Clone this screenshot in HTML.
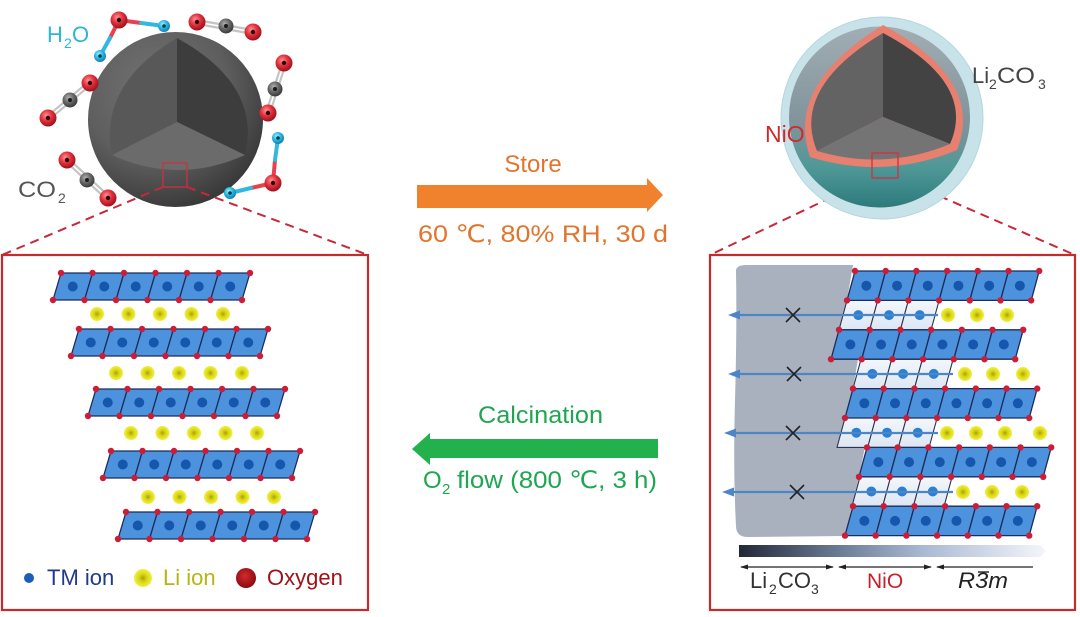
<!DOCTYPE html>
<html><head><meta charset="utf-8"><style>
html,body{margin:0;padding:0;background:#fff;}
svg{display:block;}
text{font-family:"Liberation Sans","DejaVu Sans",sans-serif;}
</style></head><body>
<svg width="1080" height="617" viewBox="0 0 1080 617" xmlns="http://www.w3.org/2000/svg">
<defs>
 <radialGradient id="gO" cx="40%" cy="35%" r="65%"><stop offset="0" stop-color="#ff9090"/><stop offset="0.5" stop-color="#e0323e"/><stop offset="1" stop-color="#a0101c"/></radialGradient>
 <radialGradient id="gC" cx="40%" cy="35%" r="65%"><stop offset="0" stop-color="#b0b0b0"/><stop offset="0.5" stop-color="#6a6a6a"/><stop offset="1" stop-color="#3a3a3a"/></radialGradient>
 <radialGradient id="gH" cx="40%" cy="35%" r="65%"><stop offset="0" stop-color="#a0f0ff"/><stop offset="0.5" stop-color="#2cb8e4"/><stop offset="1" stop-color="#1080b0"/></radialGradient>
 <radialGradient id="gLi" cx="50%" cy="50%" r="50%"><stop offset="0" stop-color="#a8a000"/><stop offset="0.4" stop-color="#d6d214"/><stop offset="1" stop-color="#f2f040"/></radialGradient>
 <radialGradient id="gOx" cx="45%" cy="40%" r="60%"><stop offset="0" stop-color="#d42a2a"/><stop offset="1" stop-color="#8a0a10"/></radialGradient>
 <radialGradient id="gS" cx="38%" cy="32%" r="70%"><stop offset="0" stop-color="#727272"/><stop offset="0.6" stop-color="#5e5e5e"/><stop offset="1" stop-color="#3a3a3a"/></radialGradient>
 <linearGradient id="gT" x1="0" y1="0" x2="0" y2="1"><stop offset="0" stop-color="#a2adb4"/><stop offset="0.55" stop-color="#7f939a"/><stop offset="0.78" stop-color="#4f9898"/><stop offset="1" stop-color="#2d7a7c"/></linearGradient>
 <linearGradient id="gBar" x1="0" y1="0" x2="1" y2="0"><stop offset="0" stop-color="#222838"/><stop offset="0.3" stop-color="#66758f"/><stop offset="0.6" stop-color="#a9b9d4"/><stop offset="1" stop-color="#f4f6fa"/></linearGradient>
 <linearGradient id="gW" x1="0" y1="0" x2="0" y2="1"><stop offset="0" stop-color="#f4f7fb"/><stop offset="1" stop-color="#dde6f2"/></linearGradient>

 <g id="aO"><circle r="8.5" fill="url(#gO)"/><circle r="2.2" fill="#2a0808"/></g>
 <g id="aC"><circle r="7.5" fill="url(#gC)"/><circle r="2" fill="#1a1a1a"/></g>
 <g id="aH"><circle r="6" fill="url(#gH)"/><circle r="1.8" fill="#0a3a50"/></g>
 <g id="li"><circle r="7" fill="url(#gLi)"/></g>

 <g id="rowL">
  <g fill="#4d92dc" stroke="#1b2c5a" stroke-width="1.3" stroke-linejoin="round">
   <polygon points="8,0 39.5,0 31.5,27 0,27"/>
   <polygon points="39.5,0 71,0 63,27 31.5,27"/>
   <polygon points="71,0 102.5,0 94.5,27 63,27"/>
   <polygon points="102.5,0 134,0 126,27 94.5,27"/>
   <polygon points="134,0 165.5,0 157.5,27 126,27"/>
   <polygon points="165.5,0 197,0 189,27 157.5,27"/>
  </g>
  <g fill="#1656ad">
   <circle cx="19.75" cy="13.5" r="5"/><circle cx="51.25" cy="13.5" r="5"/><circle cx="82.75" cy="13.5" r="5"/>
   <circle cx="114.25" cy="13.5" r="5"/><circle cx="145.75" cy="13.5" r="5"/><circle cx="177.25" cy="13.5" r="5"/>
  </g>
  <g fill="#cc1d38">
   <circle cx="8" cy="0" r="3.2"/><circle cx="39.5" cy="0" r="3.2"/><circle cx="71" cy="0" r="3.2"/><circle cx="102.5" cy="0" r="3.2"/><circle cx="134" cy="0" r="3.2"/><circle cx="165.5" cy="0" r="3.2"/><circle cx="197" cy="0" r="3.2"/>
   <circle cx="0" cy="27" r="3.2"/><circle cx="31.5" cy="27" r="3.2"/><circle cx="63" cy="27" r="3.2"/><circle cx="94.5" cy="27" r="3.2"/><circle cx="126" cy="27" r="3.2"/><circle cx="157.5" cy="27" r="3.2"/><circle cx="189" cy="27" r="3.2"/>
  </g>
 </g>

 <g id="rowB">
  <g fill="#4d92dc" stroke="#1b2c5a" stroke-width="1.3" stroke-linejoin="round">
   <polygon points="8,0 38.7,0 30.7,29.4 0,29.4"/>
   <polygon points="38.7,0 69.4,0 61.4,29.4 30.7,29.4"/>
   <polygon points="69.4,0 100.1,0 92.1,29.4 61.4,29.4"/>
   <polygon points="100.1,0 130.8,0 122.8,29.4 92.1,29.4"/>
   <polygon points="130.8,0 161.5,0 153.5,29.4 122.8,29.4"/>
   <polygon points="161.5,0 192.2,0 184.2,29.4 153.5,29.4"/>
  </g>
  <g fill="#1656ad">
   <circle cx="19.35" cy="14.7" r="5"/><circle cx="50.05" cy="14.7" r="5"/><circle cx="80.75" cy="14.7" r="5"/>
   <circle cx="111.45" cy="14.7" r="5"/><circle cx="142.15" cy="14.7" r="5"/><circle cx="172.85" cy="14.7" r="5"/>
  </g>
  <g fill="#cc1d38">
   <circle cx="8" cy="0" r="3.2"/><circle cx="38.7" cy="0" r="3.2"/><circle cx="69.4" cy="0" r="3.2"/><circle cx="100.1" cy="0" r="3.2"/><circle cx="130.8" cy="0" r="3.2"/><circle cx="161.5" cy="0" r="3.2"/><circle cx="192.2" cy="0" r="3.2"/>
   <circle cx="0" cy="29.4" r="3.2"/><circle cx="30.7" cy="29.4" r="3.2"/><circle cx="61.4" cy="29.4" r="3.2"/><circle cx="92.1" cy="29.4" r="3.2"/><circle cx="122.8" cy="29.4" r="3.2"/><circle cx="153.5" cy="29.4" r="3.2"/><circle cx="184.2" cy="29.4" r="3.2"/>
  </g>
 </g>

 <g id="rowW">
  <g fill="url(#gW)" stroke="#2a3550" stroke-width="1.1" stroke-linejoin="round">
   <polygon points="8,0 38.7,0 30.7,29.4 0,29.4"/>
   <polygon points="38.7,0 69.4,0 61.4,29.4 30.7,29.4"/>
   <polygon points="69.4,0 100.1,0 92.1,29.4 61.4,29.4"/>
  </g>
  <g fill="#2a80d4">
   <circle cx="19.35" cy="14.7" r="5"/><circle cx="50.05" cy="14.7" r="5"/><circle cx="80.75" cy="14.7" r="5"/>
  </g>
 </g>
</defs>

<rect width="1080" height="617" fill="#fff"/>

<!-- ============ LEFT SPHERE ============ -->
<circle cx="175.5" cy="119.5" r="87.5" fill="url(#gS)"/>
<path d="M177,38 Q98,85 112,155 L177,122 Z" fill="#585858"/>
<path d="M177,38 Q262,85 245,155 L177,122 Z" fill="#3d3d3d"/>
<path d="M112,155 L177,122 L245,155 Q178,185 112,155 Z" fill="#6b6b6b"/>

<!-- molecules -->
<g stroke-linecap="round">
 <line x1="197" y1="22" x2="253" y2="32" stroke="#c4c4c4" stroke-width="6"/>
 <line x1="197" y1="22" x2="253" y2="32" stroke="#fff" stroke-width="1.6"/>
 <line x1="284" y1="63" x2="268" y2="113" stroke="#c4c4c4" stroke-width="6"/>
 <line x1="284" y1="63" x2="268" y2="113" stroke="#fff" stroke-width="1.6"/>
 <line x1="90" y1="83" x2="48" y2="118" stroke="#c4c4c4" stroke-width="6"/>
 <line x1="90" y1="83" x2="48" y2="118" stroke="#fff" stroke-width="1.6"/>
 <line x1="67" y1="160" x2="108" y2="198" stroke="#c4c4c4" stroke-width="6"/>
 <line x1="67" y1="160" x2="108" y2="198" stroke="#fff" stroke-width="1.6"/>
 <line x1="119" y1="20" x2="110" y2="38" stroke="#e8404e" stroke-width="4"/>
 <line x1="110" y1="38" x2="100" y2="56" stroke="#30b8e0" stroke-width="4"/>
 <line x1="119" y1="20" x2="141" y2="23" stroke="#e8404e" stroke-width="4"/>
 <line x1="141" y1="23" x2="164" y2="26" stroke="#30b8e0" stroke-width="4"/>
 <line x1="273" y1="183" x2="275" y2="160" stroke="#e8404e" stroke-width="4"/>
 <line x1="275" y1="160" x2="278" y2="138" stroke="#30b8e0" stroke-width="4"/>
 <line x1="273" y1="183" x2="251" y2="188" stroke="#e8404e" stroke-width="4"/>
 <line x1="251" y1="188" x2="230" y2="193" stroke="#30b8e0" stroke-width="4"/>
</g>
<use href="#aO" x="197" y="22"/><use href="#aC" x="226" y="26"/><use href="#aO" x="253" y="32"/>
<use href="#aO" x="284" y="63"/><use href="#aC" x="275" y="89"/><use href="#aO" x="268" y="113"/>
<use href="#aO" x="90" y="83"/><use href="#aC" x="70" y="100"/><use href="#aO" x="48" y="118"/>
<use href="#aO" x="67" y="160"/><use href="#aC" x="87" y="180"/><use href="#aO" x="108" y="198"/>
<use href="#aO" x="119" y="20"/><use href="#aH" x="100" y="56"/><use href="#aH" x="164" y="26"/>
<use href="#aO" x="273" y="183"/><use href="#aH" x="278" y="138"/><use href="#aH" x="230" y="193"/>

<text x="47" y="42" font-size="22" fill="#2fb4d6">H</text>
<text x="64" y="48" font-size="14" fill="#2fb4d6">2</text>
<text x="72" y="42" font-size="22" fill="#2fb4d6">O</text>
<text x="18" y="197" font-size="22" fill="#555" textLength="38" lengthAdjust="spacingAndGlyphs">CO</text>
<text x="58" y="203" font-size="14" fill="#555">2</text>

<rect x="163" y="163" width="24" height="24" fill="none" stroke="#d03040" stroke-width="1.3"/>
<g stroke="#c8283c" stroke-width="2" stroke-dasharray="9 6" fill="none">
 <line x1="163" y1="187" x2="2" y2="255"/>
 <line x1="187" y1="187" x2="368" y2="255"/>
 <line x1="872" y1="178" x2="710" y2="255"/>
 <line x1="898" y1="178" x2="1075" y2="255"/>
</g>

<!-- ============ RIGHT SPHERE ============ -->
<circle cx="882" cy="118" r="101" fill="#c8e2e9" stroke="#b4d6de" stroke-width="1"/>
<circle cx="879.5" cy="117" r="90.5" fill="url(#gT)"/>
<path d="M883,25 Q785,85 810,157 Q885,180 957,150 Q985,80 883,25 Z" fill="#e8806f"/>
<path d="M883,33 Q791,88 817,151 L883,117 Z" fill="#636363"/>
<path d="M883,33 Q977,83 950,144 L883,117 Z" fill="#434343"/>
<path d="M817,151 L883,117 L950,144 Q885,171 817,151 Z" fill="#747474"/>
<rect x="872" y="153" width="26" height="25" fill="none" stroke="#d03040" stroke-width="1.3"/>
<text x="765" y="142" font-size="23" fill="#d42828">NiO</text>
<text x="972" y="83" font-size="22" fill="#444">Li</text>
<text x="989" y="89" font-size="14" fill="#444">2</text>
<text x="997" y="83" font-size="22" fill="#444" textLength="38" lengthAdjust="spacingAndGlyphs">CO</text>
<text x="1038" y="89" font-size="14" fill="#444">3</text>

<!-- ============ MIDDLE ARROWS ============ -->
<text x="533" y="172" font-size="24" fill="#e2752e" text-anchor="middle">Store</text>
<polygon points="417,185 647,185 647,178 663,195 647,212 647,208 417,208" fill="#f0822d"/>
<text x="418" y="242" font-size="24" fill="#e2752e" textLength="250" lengthAdjust="spacingAndGlyphs">60 ℃, 80% RH, 30 d</text>

<text x="478" y="423" font-size="24" fill="#1ea650" textLength="125" lengthAdjust="spacingAndGlyphs">Calcination</text>
<polygon points="658,439 430,439 430,433 412,449 430,465 430,458 658,458" fill="#22b14c"/>
<text x="423" y="488" font-size="24" fill="#1ea650">O</text>
<text x="442" y="494" font-size="15" fill="#1ea650">2</text>
<text x="457" y="488" font-size="24" fill="#1ea650" textLength="200" lengthAdjust="spacingAndGlyphs">flow (800 ℃, 3 h)</text>

<!-- ============ LEFT BOX ============ -->
<rect x="2" y="255" width="366" height="355" fill="none" stroke="#c52b2b" stroke-width="2.2"/>
<use href="#rowL" x="53" y="273"/>
<use href="#rowL" x="71" y="329"/>
<use href="#rowL" x="88" y="389"/>
<use href="#rowL" x="103" y="451"/>
<use href="#rowL" x="118" y="512"/>
<use href="#li" x="97" y="314"/><use href="#li" x="128.5" y="314"/><use href="#li" x="160" y="314"/><use href="#li" x="191.5" y="314"/><use href="#li" x="223" y="314"/>
<use href="#li" x="116" y="373"/><use href="#li" x="147.5" y="373"/><use href="#li" x="179" y="373"/><use href="#li" x="210.5" y="373"/><use href="#li" x="242" y="373"/>
<use href="#li" x="131" y="433"/><use href="#li" x="162.5" y="433"/><use href="#li" x="194" y="433"/><use href="#li" x="225.5" y="433"/><use href="#li" x="257" y="433"/>
<use href="#li" x="148" y="497"/><use href="#li" x="179.5" y="497"/><use href="#li" x="211" y="497"/><use href="#li" x="242.5" y="497"/><use href="#li" x="274" y="497"/>

<circle cx="29" cy="578" r="5" fill="#1a5fb4"/>
<text x="47" y="585" font-size="22" fill="#1e3a8a">TM ion</text>
<circle cx="143" cy="578" r="9" fill="url(#gLi)"/>
<text x="163" y="585" font-size="22" fill="#b8b414">Li ion</text>
<circle cx="246" cy="578" r="10" fill="url(#gOx)"/>
<text x="267" y="585" font-size="22" fill="#a01218">Oxygen</text>

<!-- ============ RIGHT BOX ============ -->
<rect x="710" y="255" width="365" height="355" fill="none" stroke="#c52b2b" stroke-width="2.2"/>
<path d="M736,270 Q737,265 746,265 L853,265 L847,300 L839,330 L831,359 L858,359 L853,389 L845,418 L837,447 L865,447 L859,477 L852,506 L845,536 L748,537 Q736,537 736,526 Q733,470 735,400 Q737,330 736,270 Z" fill="#aab1be"/>
<use href="#rowW" x="839" y="300.4"/>
<use href="#rowW" x="853" y="359.2"/>
<use href="#rowW" x="837" y="418"/>
<use href="#rowW" x="852" y="476.8"/>
<use href="#rowB" x="847" y="271"/>
<use href="#rowB" x="831" y="329.8"/>
<use href="#rowB" x="845" y="388.6"/>
<use href="#rowB" x="859" y="447.4"/>
<use href="#rowB" x="845" y="506.2"/>
<use href="#li" x="948" y="315"/><use href="#li" x="977" y="315"/><use href="#li" x="1007" y="315"/>
<use href="#li" x="965" y="374"/><use href="#li" x="993" y="374"/><use href="#li" x="1023" y="374"/>
<use href="#li" x="947" y="433"/><use href="#li" x="976" y="433"/><use href="#li" x="1005" y="433"/><use href="#li" x="1040" y="433"/>
<use href="#li" x="963" y="492"/><use href="#li" x="992" y="492"/><use href="#li" x="1022" y="492"/>

<g stroke="#4d86c6" stroke-width="2.2">
 <line x1="938" y1="315" x2="736" y2="315"/>
 <line x1="953" y1="374" x2="736" y2="374"/>
 <line x1="938" y1="433" x2="732" y2="433"/>
 <line x1="953" y1="492" x2="730" y2="492"/>
</g>
<g fill="#4d86c6">
 <polygon points="728,315 740,310.5 740,319.5"/>
 <polygon points="728,374 740,369.5 740,378.5"/>
 <polygon points="724,433 736,428.5 736,437.5"/>
 <polygon points="722,492 734,487.5 734,496.5"/>
</g>
<g stroke="#222" stroke-width="1.6">
 <line x1="786" y1="308" x2="800" y2="322"/><line x1="800" y1="308" x2="786" y2="322"/>
 <line x1="787" y1="367" x2="801" y2="381"/><line x1="801" y1="367" x2="787" y2="381"/>
 <line x1="786" y1="426" x2="800" y2="440"/><line x1="800" y1="426" x2="786" y2="440"/>
 <line x1="790" y1="485" x2="804" y2="499"/><line x1="804" y1="485" x2="790" y2="499"/>
</g>

<polygon points="739,545 1040,545 1046,551 1040,557 739,557" fill="url(#gBar)"/>
<g stroke="#222" stroke-width="1.2">
 <line x1="741" y1="567" x2="833" y2="567"/>
 <line x1="839" y1="567" x2="931" y2="567"/>
 <line x1="937" y1="567" x2="1033" y2="567"/>
</g>
<g fill="#222">
 <polygon points="740,567 748,564.5 748,569.5"/>
 <polygon points="834,567 826,564.5 826,569.5"/>
 <polygon points="838,567 846,564.5 846,569.5"/>
 <polygon points="932,567 924,564.5 924,569.5"/>
 <polygon points="936,567 944,564.5 944,569.5"/>
</g>
<text x="750" y="588" font-size="22" fill="#333">Li</text>
<text x="769" y="594" font-size="14" fill="#333">2</text>
<text x="778" y="588" font-size="22" fill="#333">CO</text>
<text x="811" y="594" font-size="14" fill="#333">3</text>
<text x="867" y="588" font-size="21" fill="#c8202a">NiO</text>
<text x="958" y="588" font-size="22" font-style="italic" fill="#222" textLength="50" lengthAdjust="spacingAndGlyphs">R3m</text>
<line x1="978" y1="572" x2="989" y2="572" stroke="#222" stroke-width="1.4"/>
</svg>
</body></html>
